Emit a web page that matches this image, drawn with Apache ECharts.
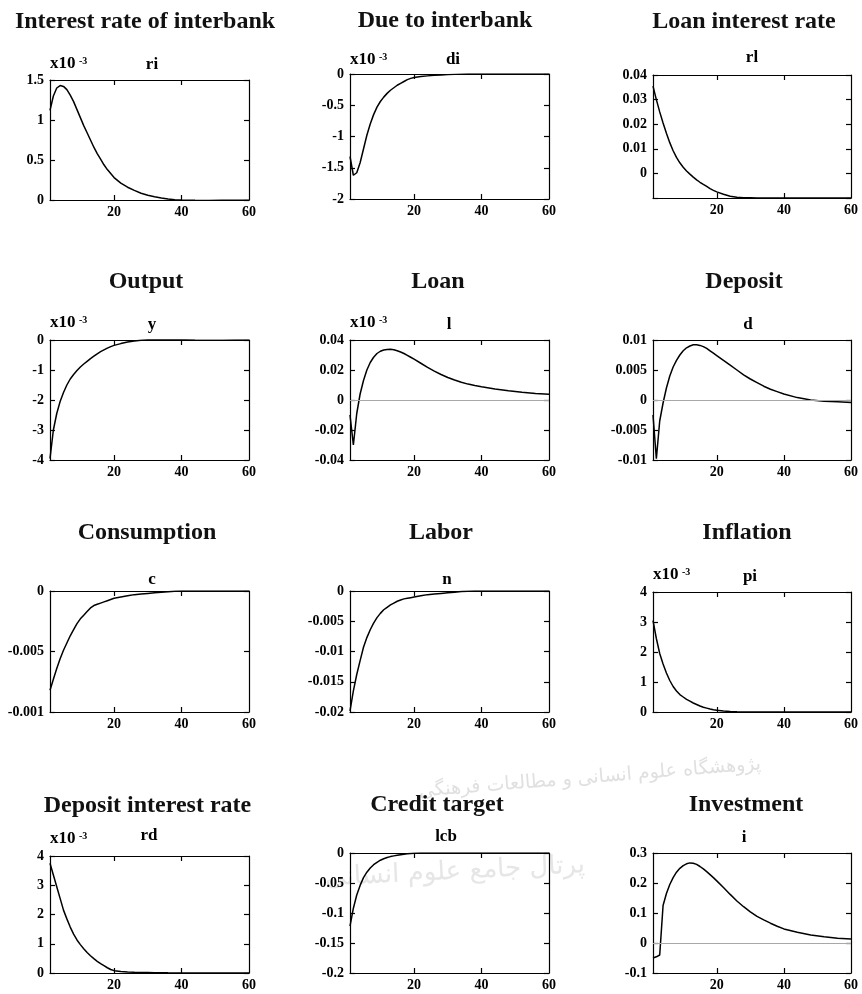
<!DOCTYPE html>
<html>
<head>
<meta charset="utf-8">
<script src="https://cdn.jsdelivr.net/npm/echarts@6/dist/echarts.min.js"></script>
<style>
html,body{margin:0;padding:0;background:#fff;}
#chart{width:862px;height:994px;}
</style>
</head>
<body>
<div id="chart"></div>
<script>
// ---------------- DATA ----------------
const periods = [1,2,3,4,5,6,7,8,9,10,11,12,13,14,15,16,17,18,19,20,22,24,26,28,30,32,34,36,38,40,44,48,52,56,60];
const xTickValues = [20, 40, 60];
const xTickLabels = ['20', '40', '60'];

const interbankRate = [1.12,1.30,1.40,1.43,1.42,1.38,1.31,1.23,1.13,1.03,0.93,0.84,0.75,0.66,0.58,0.51,0.44,0.38,0.33,0.28,0.21,0.16,0.12,0.085,0.06,0.04,0.025,0.012,0.004,0,-0.004,-0.005,-0.004,-0.003,-0.002];
const dueInterbank = [-1.32,-1.62,-1.58,-1.42,-1.20,-0.98,-0.80,-0.65,-0.53,-0.44,-0.37,-0.31,-0.26,-0.22,-0.18,-0.15,-0.12,-0.09,-0.07,-0.055,-0.04,-0.03,-0.02,-0.015,-0.01,-0.006,-0.003,-0.001,0,0,0,0,0,0,0];
const loanRate = [0.0355,0.030,0.025,0.0205,0.0163,0.0125,0.0092,0.0065,0.0043,0.0025,0.001,-0.0003,-0.0015,-0.0026,-0.0036,-0.0045,-0.0053,-0.0062,-0.0069,-0.0075,-0.0085,-0.0093,-0.0097,-0.0099,-0.0099,-0.01,-0.01,-0.01,-0.01,-0.01,-0.01,-0.01,-0.01,-0.01,-0.01];
const outputY = [-3.95,-3.0,-2.45,-2.05,-1.75,-1.5,-1.3,-1.15,-1.02,-0.9,-0.8,-0.71,-0.62,-0.54,-0.46,-0.39,-0.33,-0.27,-0.22,-0.18,-0.12,-0.07,-0.035,-0.01,0.005,0.015,0.02,0.02,0.015,0.01,0,-0.005,-0.005,-0.003,-0.002];
const loan = [-0.010,-0.030,-0.009,0.004,0.013,0.020,0.025,0.0285,0.031,0.0325,0.0333,0.0337,0.0338,0.0335,0.0328,0.032,0.031,0.0298,0.0285,0.0272,0.0245,0.0218,0.0193,0.017,0.015,0.0133,0.0118,0.0106,0.0096,0.0088,0.0074,0.0062,0.0052,0.0044,0.0038];
const deposit = [-0.0025,-0.0098,-0.0035,-0.0005,0.002,0.004,0.0055,0.0066,0.0075,0.0082,0.0087,0.009,0.0092,0.0092,0.0091,0.0089,0.0086,0.0082,0.0078,0.0074,0.0066,0.0058,0.005,0.0042,0.0035,0.0029,0.0023,0.0018,0.0014,0.001,0.0004,0,-0.0002,-0.0003,-0.0004];
const consumption = [-0.0082,-0.0073,-0.0064,-0.0056,-0.0049,-0.0043,-0.0037,-0.0032,-0.0027,-0.0023,-0.002,-0.0017,-0.0014,-0.0012,-0.0011,-0.001,-0.0009,-0.0008,-0.0007,-0.0006,-0.0005,-0.0004,-0.0003,-0.00025,-0.0002,-0.00015,-0.0001,-0.00006,-0.00003,0,0,0,0,0,0];
const labor = [-0.0198,-0.0165,-0.0138,-0.0115,-0.0093,-0.0077,-0.0064,-0.0053,-0.0044,-0.0037,-0.0031,-0.0027,-0.0023,-0.002,-0.0017,-0.0015,-0.0013,-0.0012,-0.0011,-0.001,-0.0008,-0.0006,-0.0005,-0.0004,-0.0003,-0.0002,-0.0001,-0.00005,0,0,0,0,0,0,0];
const inflation = [3.05,2.45,1.95,1.6,1.3,1.05,0.85,0.7,0.58,0.5,0.42,0.36,0.3,0.25,0.2,0.16,0.13,0.1,0.075,0.055,0.03,0.015,0.005,0,0,0,0,0,0,0,0,0,0,0,0];
const depositRate = [3.75,3.35,2.95,2.55,2.15,1.85,1.57,1.33,1.13,0.97,0.83,0.7,0.59,0.49,0.4,0.32,0.25,0.18,0.12,0.08,0.05,0.035,0.025,0.02,0.015,0.01,0.008,0.005,0.003,0.002,0,0,0,0,0];
const creditTarget = [-0.122,-0.092,-0.07,-0.054,-0.041,-0.032,-0.025,-0.0195,-0.0155,-0.012,-0.0095,-0.0075,-0.006,-0.0048,-0.0037,-0.0028,-0.002,-0.0014,-0.0009,-0.0005,0,0,0,0,0,0,0,0,0,0,0,0,0,0,0];
const investment = [-0.05,-0.046,-0.04,0.125,0.165,0.195,0.218,0.236,0.249,0.258,0.264,0.267,0.266,0.262,0.255,0.247,0.238,0.228,0.218,0.207,0.185,0.162,0.14,0.121,0.104,0.089,0.077,0.066,0.056,0.047,0.036,0.027,0.021,0.016,0.013];

const panelTitles = ['Interest rate of interbank','Due to interbank','Loan interest rate','Output','Loan','Deposit','Consumption','Labor','Inflation','Deposit interest rate','Credit target','Investment'];
const panelVars = ['ri','di','rl','y','l','d','c','n','pi','rd','lcb','i'];
const panelSeries = [interbankRate, dueInterbank, loanRate, outputY, loan, deposit, consumption, labor, inflation, depositRate, creditTarget, investment];

const yTickValues = [
  [0, 0.5, 1, 1.5],
  [-2, -1.5, -1, -0.5, 0],
  [-0.01, 0, 0.01, 0.02, 0.03, 0.04],
  [-4, -3, -2, -1, 0],
  [-0.04, -0.02, 0, 0.02, 0.04],
  [-0.01, -0.005, 0, 0.005, 0.01],
  [-0.01, -0.005, 0],
  [-0.02, -0.015, -0.01, -0.005, 0],
  [0, 1, 2, 3, 4],
  [0, 1, 2, 3, 4],
  [-0.2, -0.15, -0.1, -0.05, 0],
  [-0.1, 0, 0.1, 0.2, 0.3]
];
const yTickLabels = [
  ['0', '0.5', '1', '1.5'],
  ['-2', '-1.5', '-1', '-0.5', '0'],
  ['', '0', '0.01', '0.02', '0.03', '0.04'],
  ['-4', '-3', '-2', '-1', '0'],
  ['-0.04', '-0.02', '0', '0.02', '0.04'],
  ['-0.01', '-0.005', '0', '0.005', '0.01'],
  ['-0.001', '-0.005', '0'],
  ['-0.02', '-0.015', '-0.01', '-0.005', '0'],
  ['0', '1', '2', '3', '4'],
  ['0', '1', '2', '3', '4'],
  ['-0.2', '-0.15', '-0.1', '-0.05', '0'],
  ['-0.1', '0', '0.1', '0.2', '0.3']
];
const scaleNote = ['x10', '-3'];
const hasScaleNote = [true, true, false, true, true, false, false, false, true, true, false, false];
const hasZeroLine = [false, false, false, false, true, true, false, false, false, false, false, true];
const watermarkLines = ['پژوهشگاه علوم انسانی و مطالعات فرهنگی', 'پرتال جامع علوم انسانی'];

// ---------------- LAYOUT ----------------
const boxes = [
  {l:50, t:80, w:199, h:120}, {l:350, t:74, w:199, h:125}, {l:653, t:75, w:198, h:123},
  {l:50, t:340, w:199, h:120}, {l:350, t:340, w:199, h:120}, {l:653, t:340, w:198, h:120},
  {l:50, t:591, w:199, h:121}, {l:350, t:591, w:199, h:121}, {l:653, t:592, w:198, h:120},
  {l:50, t:856, w:199, h:117}, {l:350, t:853, w:199, h:120}, {l:653, t:853, w:198, h:120}
];
const titlePos = [
  {x:145, y:22}, {x:445, y:21}, {x:744, y:22},
  {x:146, y:282}, {x:438, y:282}, {x:744, y:282},
  {x:147, y:533}, {x:441, y:533}, {x:747, y:533},
  {x:147.5, y:806}, {x:437, y:805}, {x:746, y:805}
];
const subPos = [
  {x:152, y:65}, {x:453, y:60}, {x:752, y:58},
  {x:152, y:325}, {x:449, y:325}, {x:748, y:325},
  {x:152, y:580}, {x:447, y:580}, {x:750, y:577},
  {x:149, y:836}, {x:446, y:837}, {x:744, y:838}
];
const notePos = [
  {x:50, y:72}, {x:350, y:68}, null,
  {x:50, y:331}, {x:350, y:331}, null,
  null, null, {x:653, y:583},
  {x:50, y:847}, null, null
];

const FONT = '"Liberation Serif","Times New Roman",serif';
const grid = [], xAxis = [], yAxis = [], series = [], graphic = [];

function labelFor(values, labels, v) {
  const span = Math.abs(values[values.length - 1] - values[0]) || 1;
  for (let k = 0; k < values.length; k++) {
    if (Math.abs(values[k] - v) < span * 1e-6) return labels[k];
  }
  return '';
}

const axisLineStyle = {color:'#000', width:1.2};

panelSeries.forEach((data, i) => {
  const b = boxes[i];
  const yv = yTickValues[i];
  const yl = yTickLabels[i];
  grid.push({left:b.l, top:b.t, width:b.w, height:b.h, containLabel:false});
  xAxis.push({
    gridIndex:i, type:'value', min:1, max:60, position:'bottom',
    axisLine:{show:true, onZero:false, lineStyle:axisLineStyle},
    axisTick:{show:true, inside:true, length:5, customValues:[20, 40], lineStyle:axisLineStyle},
    axisLabel:{show:true, customValues:xTickValues, formatter:(v) => labelFor(xTickValues, xTickLabels, v),
      margin:5, fontFamily:FONT, fontWeight:'bold', fontSize:14, color:'#000'},
    splitLine:{show:false}
  });
  xAxis.push({
    gridIndex:i, type:'value', min:1, max:60, position:'top',
    axisLine:{show:true, onZero:false, lineStyle:axisLineStyle},
    axisTick:{show:true, inside:true, length:5, customValues:[20, 40], lineStyle:axisLineStyle},
    axisLabel:{show:false}, splitLine:{show:false}
  });
  yAxis.push({
    gridIndex:i, type:'value', min:yv[0], max:yv[yv.length - 1], position:'left',
    axisLine:{show:true, onZero:false, lineStyle:axisLineStyle},
    axisTick:{show:true, inside:true, length:5, customValues:yv, lineStyle:axisLineStyle},
    axisLabel:{show:true, customValues:yv, formatter:(v) => labelFor(yv, yl, v),
      margin:6, fontFamily:FONT, fontWeight:'bold', fontSize:14, color:'#000'},
    splitLine:{show:false}
  });
  yAxis.push({
    gridIndex:i, type:'value', min:yv[0], max:yv[yv.length - 1], position:'right',
    axisLine:{show:true, onZero:false, lineStyle:axisLineStyle},
    axisTick:{show:true, inside:true, length:5, customValues:yv, lineStyle:axisLineStyle},
    axisLabel:{show:false}, splitLine:{show:false}
  });
  const s = {
    type:'line', xAxisIndex:2 * i, yAxisIndex:2 * i,
    data: periods.map((p, k) => [p, data[k]]),
    symbol:'none', showSymbol:false, clip:true, silent:true, animation:false,
    lineStyle:{color:'#000', width:1.5}, z:3
  };
  if (hasZeroLine[i]) {
    s.markLine = {silent:true, symbol:['none','none'], label:{show:false}, animation:false,
      lineStyle:{color:'#a8a8a8', width:1, type:'solid'}, emphasis:{disabled:true},
      data:[{yAxis:0}]};
  }
  series.push(s);

  graphic.push({type:'text', x:titlePos[i].x, y:titlePos[i].y, silent:true,
    style:{text:panelTitles[i], font:'bold 24px ' + FONT, fill:'#111', align:'center', verticalAlign:'middle'}});
  graphic.push({type:'text', x:subPos[i].x, y:subPos[i].y, silent:true,
    style:{text:panelVars[i], font:'bold 17px ' + FONT, fill:'#000', align:'center', verticalAlign:'middle'}});
  if (hasScaleNote[i]) {
    const n = notePos[i];
    graphic.push({type:'text', x:n.x, y:n.y, silent:true,
      style:{text:scaleNote[0], font:'bold 17px ' + FONT, fill:'#000', align:'left', verticalAlign:'bottom'}});
    graphic.push({type:'text', x:n.x + 29, y:n.y - 6, silent:true,
      style:{text:scaleNote[1], font:'bold 10px ' + FONT, fill:'#000', align:'left', verticalAlign:'bottom'}});
  }
});

// faint watermark text of the source page
graphic.push({type:'text', x:590, y:778, rotation:0.08, silent:true, z:-10,
  style:{text:watermarkLines[0], font:'19px "DejaVu Sans",sans-serif', fill:'#e0e0e0', align:'center', verticalAlign:'middle'}});
graphic.push({type:'text', x:455, y:872, rotation:0.05, silent:true, z:-10,
  style:{text:watermarkLines[1], font:'26px "DejaVu Sans",sans-serif', fill:'#e6e6e6', align:'center', verticalAlign:'middle'}});

const chart = echarts.init(document.getElementById('chart'), null, {renderer:'canvas', width:862, height:994});
chart.setOption({
  backgroundColor:'#fff',
  animation:false,
  grid, xAxis, yAxis, series, graphic
});
</script>
</body>
</html>
